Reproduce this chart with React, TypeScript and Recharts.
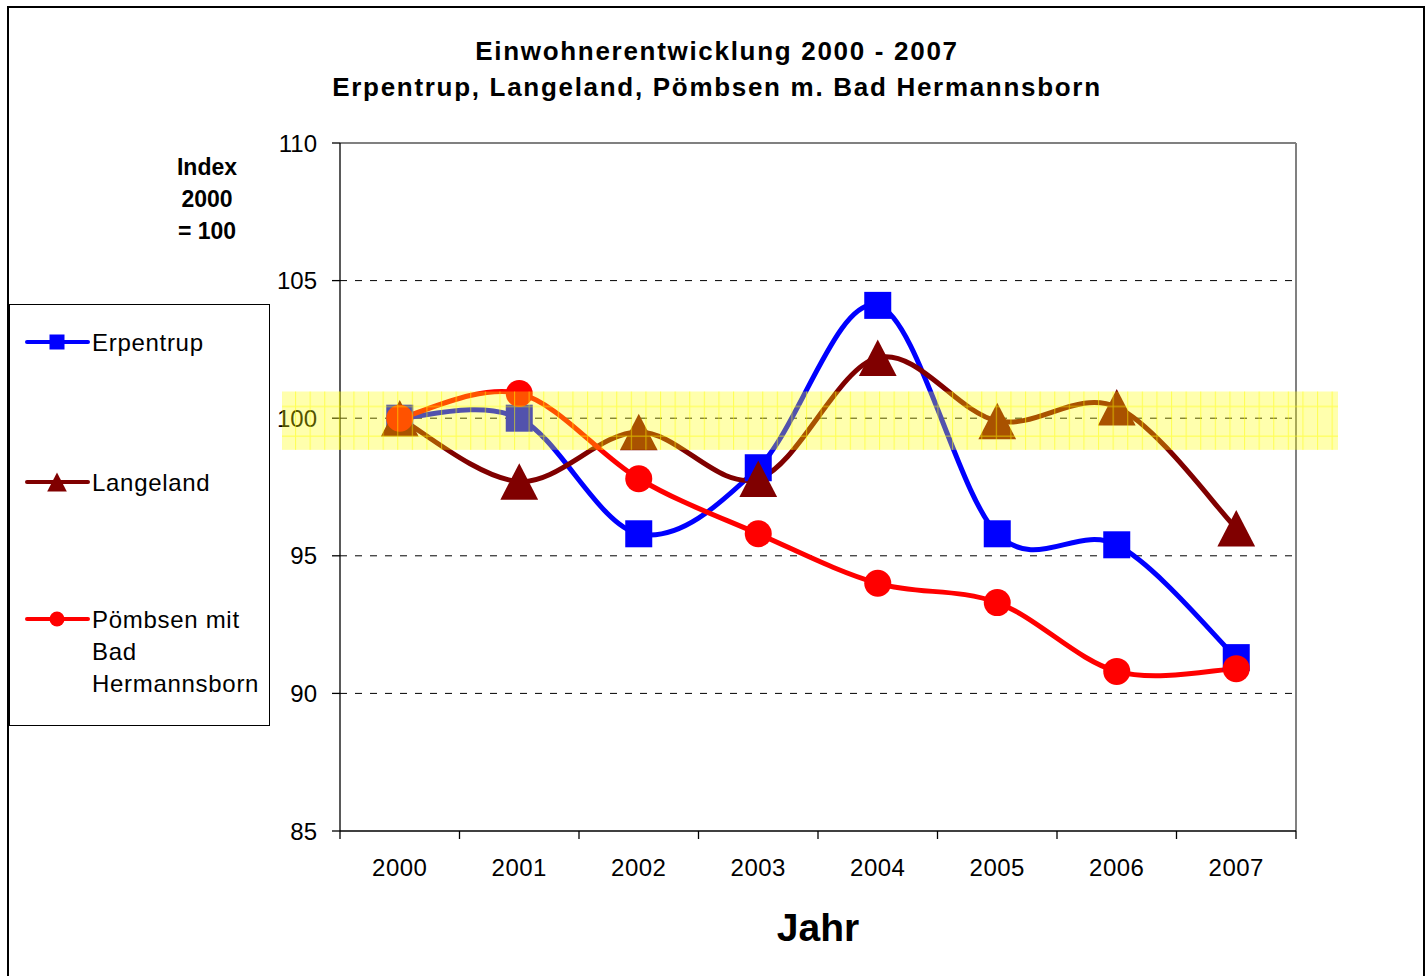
import React from 'react';
import { LineChart, Line, XAxis, YAxis, CartesianGrid, ReferenceArea, Legend } from 'recharts';

// ---------- data ----------
const years = ['2000', '2001', '2002', '2003', '2004', '2005', '2006', '2007'];
const erpentrup = [100, 100, 95.8, 98.2, 104.1, 95.8, 95.4, 91.3];
const langeland = [100, 97.7, 99.5, 97.8, 102.2, 99.9, 100.4, 96.0];
const poembsen = [100, 100.9, 97.8, 95.8, 94.0, 93.3, 90.8, 90.9];
const yTicks = [85, 90, 95, 100, 105, 110];
const gridValues = [90, 95, 100, 105];
const bandRange = [98.85, 100.97];

const titleLines = ['Einwohnerentwicklung 2000 - 2007', 'Erpentrup, Langeland, Pömbsen m. Bad Hermannsborn'];
const yLabelLines = ['Index', '2000', '= 100'];
const xLabel = 'Jahr';
const seriesKeys = ['erpentrup', 'langeland', 'poembsen'];
const seriesNames = ['Erpentrup', 'Langeland', 'Pömbsen mit Bad Hermannsborn'];
const legendLines = [['Erpentrup'], ['Langeland'], ['Pömbsen mit', 'Bad', 'Hermannsborn']];
const seriesColors = ['#0000ff', '#800000', '#ff0000'];
const seriesMarkers = ['square', 'triangle', 'circle'];

const data = years.map((year, i) => ({
  year,
  erpentrup: erpentrup[i],
  langeland: langeland[i],
  poembsen: poembsen[i],
}));

// ---------- layout ----------
const W = 1428;
const H = 976;
const MARGIN = { top: 143, right: 132, bottom: 35, left: 280 };
const Y_AXIS_W = 60;
const X_AXIS_H = 110;
const PLOT_LEFT = MARGIN.left + Y_AXIS_W;
const PLOT_RIGHT = W - MARGIN.right;
const PLOT_BOTTOM = H - MARGIN.bottom - X_AXIS_H;
const BAND = (PLOT_RIGHT - PLOT_LEFT) / years.length;
const FONT = '"Liberation Sans", Arial, Helvetica, sans-serif';

// Catmull-Rom like smoothing (Excel smoothed line)
const smoothCurve: any = (context: any) => {
  let xs: number[] = [];
  let ys: number[] = [];
  return {
    areaStart() {},
    areaEnd() {},
    lineStart() {
      xs = [];
      ys = [];
    },
    point(x: number, y: number) {
      xs.push(+x);
      ys.push(+y);
    },
    lineEnd() {
      const n = xs.length;
      if (!n) return;
      context.moveTo(xs[0], ys[0]);
      for (let i = 0; i < n - 1; i++) {
        const p = Math.max(i - 1, 0);
        const q = Math.min(i + 2, n - 1);
        const c1x = xs[i] + (xs[i + 1] - xs[p]) / 6;
        const c1y = ys[i] + (ys[i + 1] - ys[p]) / 6;
        const c2x = xs[i + 1] - (xs[q] - xs[i]) / 6;
        const c2y = ys[i + 1] - (ys[q] - ys[i]) / 6;
        context.bezierCurveTo(c1x, c1y, c2x, c2y, xs[i + 1], ys[i + 1]);
      }
    },
  };
};

function Marker({ kind, cx, cy, size, color }: any) {
  if (kind === 'square') {
    return <rect x={cx - size / 2} y={cy - size / 2} width={size} height={size} fill={color} />;
  }
  if (kind === 'triangle') {
    const w = size * 1.4;
    const h = size * 1.35;
    return (
      <polygon
        points={`${cx},${cy - h / 2} ${cx - w / 2},${cy + h / 2} ${cx + w / 2},${cy + h / 2}`}
        fill={color}
      />
    );
  }
  return <circle cx={cx} cy={cy} r={size / 2} fill={color} />;
}

const makeDot = (kind: string, color: string, size: number) => (props: any) => {
  const { cx, cy, index } = props;
  if (cx == null || cy == null) return <g key={`e-${kind}-${index}`} />;
  return <Marker key={`${kind}-${index}`} kind={kind} cx={cx} cy={cy} size={size} color={color} />;
};

const XTick = (props: any) => {
  const { x, payload, index } = props;
  return (
    <g>
      <line x1={x - BAND / 2} x2={x - BAND / 2} y1={PLOT_BOTTOM} y2={PLOT_BOTTOM + 8} stroke="#000" strokeWidth={1.3} />
      {index === years.length - 1 && (
        <line x1={x + BAND / 2} x2={x + BAND / 2} y1={PLOT_BOTTOM} y2={PLOT_BOTTOM + 8} stroke="#000" strokeWidth={1.3} />
      )}
      <text x={x} y={PLOT_BOTTOM + 45} textAnchor="middle" fontSize={24} fontFamily={FONT} fill="#000" letterSpacing={0.5}>
        {payload.value}
      </text>
    </g>
  );
};

const BandShape = (props: any) => {
  const { y, height } = props;
  const bx = PLOT_LEFT - 58;
  const bw = PLOT_RIGHT - PLOT_LEFT + 100;
  return (
    <g>
      <defs>
        <pattern id="bandGrid" patternUnits="userSpaceOnUse" x={bx + 13} y={y} width={14.6} height={29.7}>
          <line x1={0.5} x2={0.5} y1={0} y2={29.7} stroke="#ffff00" strokeWidth={1.2} />
          <line x1={0} x2={14.6} y1={15} y2={15} stroke="#ffff00" strokeWidth={1.2} />
        </pattern>
      </defs>
      <rect x={bx} y={y} width={bw} height={height} fill="#ffff00" fillOpacity={0.32} />
      <rect x={bx} y={y} width={bw} height={height} fill="url(#bandGrid)" opacity={0.5} />
    </g>
  );
};

const LegendBox = (props: any) => {
  const payload = props.payload || [];
  const rows = [38, 178, 315];
  return (
    <svg width={261} height={422} style={{ display: 'block' }}>
      <rect x={0.5} y={0.5} width={260} height={421} fill="#fff" stroke="#000" strokeWidth={1} />
      {seriesKeys.map((key, i) => {
        const entry = payload.find((p: any) => p.dataKey === key) || {};
        const color = entry.color || seriesColors[i];
        const cy = rows[i];
        const lines = legendLines[i];
        return (
          <g key={key}>
            <line x1={18} x2={79} y1={cy} y2={cy} stroke={color} strokeWidth={4} strokeLinecap="round" />
            <Marker kind={seriesMarkers[i]} cx={48} cy={cy} size={i === 1 ? 14 : 15} color={color} />
            {lines.map((t, j) => (
              <text key={j} x={83} y={cy + 9 + j * 32} fontSize={24} fontFamily={FONT} fill="#000" letterSpacing={0.7}>
                {t}
              </text>
            ))}
          </g>
        );
      })}
    </svg>
  );
};

export default function App() {
  return (
    <div style={{ position: 'absolute', left: 0, top: 0, width: W, height: H, overflow: 'hidden', background: '#fff' }}>
      <div
        style={{
          position: 'absolute',
          left: 7,
          top: 6,
          width: 1418,
          height: 1100,
          border: '2px solid #000',
          boxSizing: 'border-box',
        }}
      />
      <div
        style={{
          position: 'absolute',
          left: 6,
          top: 33,
          width: 1422,
          textAlign: 'center',
          fontFamily: FONT,
          fontWeight: 'bold',
          fontSize: 26,
          lineHeight: '36px',
          letterSpacing: 1.7,
          color: '#000',
        }}
      >
        {titleLines.map((t) => (
          <div key={t}>{t}</div>
        ))}
      </div>
      <div
        style={{
          position: 'absolute',
          left: 107,
          top: 151,
          width: 200,
          textAlign: 'center',
          fontFamily: FONT,
          fontWeight: 'bold',
          fontSize: 23,
          lineHeight: '32px',
          color: '#000',
        }}
      >
        {yLabelLines.map((t) => (
          <div key={t}>{t}</div>
        ))}
      </div>
      <div style={{ position: 'absolute', left: 0, top: 0 }}>
        <LineChart width={W} height={H} data={data} margin={MARGIN}>
          <CartesianGrid
            vertical={false}
            horizontalValues={gridValues}
            stroke="#000"
            strokeDasharray="7 8"
            strokeWidth={1}
          />
          <CartesianGrid
            horizontalCoordinatesGenerator={({ offset }: any) => [offset.top]}
            verticalCoordinatesGenerator={({ offset }: any) => [offset.left + offset.width]}
            stroke="#808080"
            strokeWidth={2}
          />
          <XAxis
            dataKey="year"
            height={X_AXIS_H}
            padding={{ left: BAND / 2, right: BAND / 2 }}
            axisLine={{ stroke: '#000', strokeWidth: 1.3 }}
            tickLine={false}
            tick={<XTick />}
            interval={0}
            label={{ value: xLabel, position: 'insideBottom', offset: 0, fontSize: 39, fontWeight: 'bold', fontFamily: FONT, fill: '#000' }}
          />
          <YAxis
            domain={[85, 110]}
            ticks={yTicks}
            type="number"
            width={Y_AXIS_W}
            axisLine={{ stroke: '#000', strokeWidth: 1.3 }}
            tickLine={{ stroke: '#000', strokeWidth: 1.3 }}
            tickSize={8}
            tickMargin={15}
            tick={{ fontSize: 24, fontFamily: FONT, fill: '#000' }}
            interval={0}
          />
          {seriesKeys.map((key, i) => (
            <Line
              key={key}
              dataKey={key}
              name={seriesNames[i]}
              stroke={seriesColors[i]}
              strokeWidth={5}
              type={smoothCurve}
              dot={makeDot(seriesMarkers[i], seriesColors[i], 27)}
              activeDot={false}
              isAnimationActive={false}
            />
          ))}
          <ReferenceArea
            y1={bandRange[0]}
            y2={bandRange[1]}
            ifOverflow="visible"
            shape={<BandShape />}
            zIndex={2000}
          />
          <Legend
            layout="vertical"
            align="center"
            verticalAlign="middle"
            wrapperStyle={{ left: 9, top: 304, width: 261, height: 422 }}
            content={<LegendBox />}
          />
        </LineChart>
      </div>
    </div>
  );
}
